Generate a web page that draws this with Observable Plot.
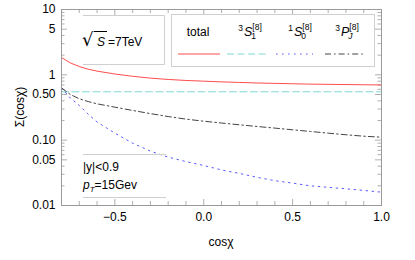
<!DOCTYPE html>
<html><head><meta charset="utf-8">
<script src="https://cdn.jsdelivr.net/npm/d3@7"></script>
<script src="https://cdn.jsdelivr.net/npm/@observablehq/plot@0.6"></script>
<style>body{margin:0;background:#fff}#chart{width:415px;height:260px}</style>
</head><body><div id="chart"></div>
<script>
// ---- data ----
const cosChi = [-0.8,-0.75,-0.7,-0.65,-0.6,-0.5,-0.4,-0.3,-0.2,-0.1,0,0.1,0.2,0.3,0.4,0.5,0.6,0.7,0.8,0.9,1.0];
const total  = [1.84,1.52,1.34,1.22,1.14,1.03,0.95,0.89,0.85,0.82,0.80,0.78,0.765,0.75,0.74,0.73,0.72,0.715,0.71,0.705,0.70];
const s3S1   = [0.55,0.55,0.55,0.55,0.55,0.55,0.55,0.55,0.55,0.55,0.55,0.55,0.55,0.55,0.55,0.55,0.55,0.55,0.55,0.55,0.55];
const s1S0   = [0.63,0.44,0.34,0.25,0.19,0.128,0.09,0.068,0.055,0.047,0.041,0.035,0.031,0.027,0.024,0.022,0.020,0.019,0.018,0.017,0.016];
const s3PJ   = [0.63,0.50,0.43,0.39,0.36,0.32,0.285,0.255,0.23,0.21,0.195,0.183,0.172,0.162,0.153,0.144,0.136,0.128,0.121,0.115,0.111];
const seriesNames = ["total","3S1[8]","1S0[8]","3PJ[8]"];
const yMajor = [0.01,0.05,0.1,0.5,1,5,10];
const yMajorLabels = ["0.01","0.05","0.10","0.50","1","5","10"];
const yMinor = [0.02,0.03,0.04,0.06,0.07,0.08,0.09,0.2,0.3,0.4,0.6,0.7,0.8,0.9,2,3,4,6,7,8,9];
const xMajor = [-0.5,0,0.5,1];
const xMajorLabels = ["\u22120.5","0.0","0.5","1.0"];
const xMinor = [-0.8,-0.7,-0.6,-0.4,-0.3,-0.2,-0.1,0.1,0.2,0.3,0.4,0.6,0.7,0.8,0.9];
const xTitle = "cos\u03c7";
const yTitle = "\u03a3(cos\u03c7)";

// ---- layout ----
const W = 415, H = 260, mL = 61, mR = 34, mT = 9, mB = 55;
const iW = W - mL - mR, iH = H - mT - mB;
const frameColor = "#9a9a9a";
const colors = ["#ff4d4d", "#7fd6d6", "#5a5aff", "#444444"];
const dashes = [null, "7,3.5", "1.6,4.4", "6,3,1.6,3"];
const keys = ["total","s","z","p"];
const FONT = "'Liberation Sans', Arial, sans-serif";

const rows = cosChi.map((c, i) => ({c, total: total[i], s: s3S1[i], z: s1S0[i], p: s3PJ[i]}));
const yLab = yMajor.map((v, i) => ({v, t: yMajorLabels[i]}));
const xLab = xMajor.map((v, i) => ({v, t: xMajorLabels[i]}));

const tk = (len, side) => ({stroke: frameColor, strokeWidth: 0.8,
  ...(side === "L" ? {insetRight: iW - len} : side === "R" ? {insetLeft: iW - len} :
      side === "B" ? {insetTop: iH - len} : {insetBottom: iH - len})});

const plot = Plot.plot({
  width: W, height: H, marginLeft: mL, marginRight: mR, marginTop: mT, marginBottom: mB,
  style: {fontFamily: FONT, fontSize: "12px", color: "#000", background: "#fff"},
  x: {domain: [-0.8, 1], axis: null},
  y: {type: "log", domain: [0.01, 10], axis: null},
  marks: [
    Plot.tickY(yMajor, {y: d => d, ...tk(6, "L")}),
    Plot.tickY(yMinor, {y: d => d, ...tk(3.5, "L")}),
    Plot.tickY(yMajor, {y: d => d, ...tk(6, "R")}),
    Plot.tickY(yMinor, {y: d => d, ...tk(3.5, "R")}),
    Plot.tickX(xMajor, {x: d => d, ...tk(6, "B")}),
    Plot.tickX(xMinor, {x: d => d, ...tk(4, "B")}),
    Plot.tickX(xMajor, {x: d => d, ...tk(6, "T")}),
    Plot.tickX(xMinor, {x: d => d, ...tk(4, "T")}),
    Plot.text(yLab, {y: "v", text: "t", frameAnchor: "left", textAnchor: "end", dx: -6, fontSize: 12, fill: "#000"}),
    Plot.text(xLab, {x: "v", text: "t", frameAnchor: "bottom", lineAnchor: "top", dy: 7, fontSize: 12, fill: "#000"}),
    ...keys.map((k, i) => Plot.line(rows, {x: "c", y: k, stroke: colors[i], strokeWidth: 1, strokeDasharray: dashes[i]})),
    Plot.frame({stroke: frameColor, strokeWidth: 1})
  ]
});
document.getElementById("chart").appendChild(plot);

// ---- annotations & legend (drawn into the same SVG) ----
const svg = d3.select(plot);
const g = svg.append("g").attr("font-family", FONT).attr("fill", "#000").attr("text-anchor", "start");
const boxC = "#cfcfcf";

// axis titles
g.append("text").attr("transform", "translate(24,107) rotate(-90)").attr("text-anchor", "middle")
  .attr("font-size", 12).text(yTitle);
g.append("text").attr("x", 221).attr("y", 246).attr("text-anchor", "middle").attr("font-size", 12).text(xTitle);

// sqrt(S) box (top, right, bottom edges)
g.append("path").attr("d", "M83,15.5H164.5V64.5H83").attr("fill", "none").attr("stroke", boxC);
g.append("text").attr("x", 82).attr("y", 46).attr("font-size", 18).attr("font-family", "'DejaVu Sans'").text("\u221a");
g.append("line").attr("x1", 94).attr("x2", 107).attr("y1", 31.5).attr("y2", 31.5).attr("stroke", "#000").attr("stroke-width", 1);
const t1 = g.append("text").attr("x", 97).attr("y", 45.5).attr("font-size", 12);
t1.append("tspan").attr("font-style", "italic").text("S");
t1.append("tspan").attr("dx", 3).text("=7TeV");

// kinematics box (top & bottom lines)
g.append("line").attr("x1", 83).attr("x2", 166).attr("y1", 154.5).attr("y2", 154.5).attr("stroke", boxC);
g.append("line").attr("x1", 83).attr("x2", 166).attr("y1", 197.5).attr("y2", 197.5).attr("stroke", boxC);
g.append("text").attr("x", 83).attr("y", 171).attr("font-size", 12).text("|y|<0.9");
const t2 = g.append("text").attr("x", 83).attr("y", 189).attr("font-size", 12);
t2.append("tspan").attr("font-style", "italic").text("p");
t2.append("tspan").attr("font-style", "italic").attr("font-size", 8).attr("dy", 3).text("T");
t2.append("tspan").attr("dy", -3).text("=15Gev");

// legend box
g.append("rect").attr("x", 171.5).attr("y", 14.5).attr("width", 203).attr("height", 52)
  .attr("fill", "#fff").attr("stroke", boxC);
const legCx = [198, 250, 300, 347];
const lineX = [[178, 220], [227, 268], [276, 313], [325, 364]];
const syms = [null, ["3", "S", "1", "[8]"], ["1", "S", "0", "[8]"], ["3", "P", "J", "[8]"]];
syms.forEach((s, i) => {
  if (!s) {
    g.append("text").attr("x", legCx[i]).attr("y", 36).attr("text-anchor", "middle").attr("font-size", 12).text(seriesNames[i]);
  } else {
    const grp = g.append("g");
    const pre = grp.append("text").attr("y", 31).attr("font-size", 8.5).text(s[0]);
    const L = grp.append("text").attr("y", 36).attr("font-size", 12.5).attr("font-style", "italic").text(s[1]);
    const sub = grp.append("text").attr("y", 39).attr("font-size", 8.5).attr("font-style", i === 3 ? "italic" : "normal").text(s[2]);
    const sup = grp.append("text").attr("y", 29.5).attr("font-size", 8.5).text(s[3]);
    const wp = pre.node().getComputedTextLength(), wl = L.node().getComputedTextLength();
    const ws = Math.max(sub.node().getComputedTextLength(), sup.node().getComputedTextLength());
    const tot = wp + 1 + wl + ws;
    const x0 = legCx[i] - tot / 2;
    pre.attr("x", x0); L.attr("x", x0 + wp + 1);
    sub.attr("x", x0 + wp + 1 + wl - 1); sup.attr("x", x0 + wp + 1 + wl);
  }
  g.append("line").attr("x1", lineX[i][0]).attr("x2", lineX[i][1]).attr("y1", 54).attr("y2", 54)
    .attr("stroke", colors[i]).attr("stroke-width", 1).attr("stroke-dasharray", dashes[i]);
});
</script>
</body></html>
